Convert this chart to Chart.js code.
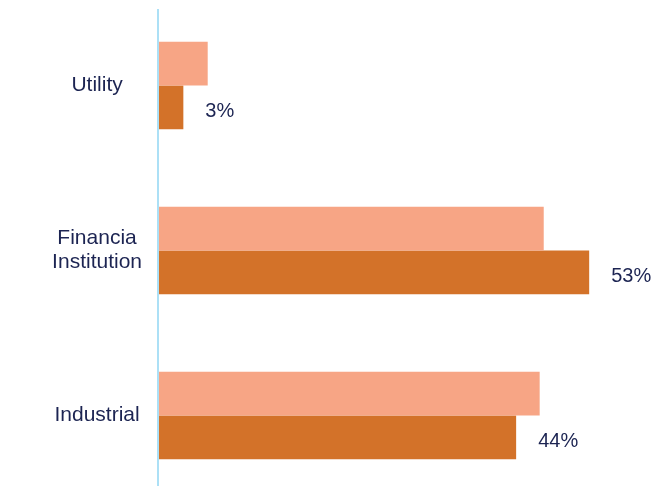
<!DOCTYPE html>
<html>
<head>
<meta charset="utf-8">
<script src="https://cdn.jsdelivr.net/npm/chart.js@4"></script>
<style>
  html, body { margin: 0; padding: 0; background: #fff; overflow: hidden; }
  #wrap { width: 651px; height: 500px; }
</style>
</head>
<body>
<div id="wrap"><canvas id="sectorChart"></canvas></div>
<script>
// sector chart - two series, labels only on the second
const categories = ['Utility', ['Financia', 'Institution'], 'Industrial'];
const lightValues = [6, 47.4, 46.9];
const darkValues = [3, 53, 44];
const darkLabels = ['3%', '53%', '44%'];

const textColor = '#1c2452';
const fontFamily = '"Liberation Sans", Arial, sans-serif';

// light blue axis line at zero
const zeroLine = {
    id: 'zeroLine',
    beforeDatasetsDraw(chart) {
        const ctx = chart.ctx;
        const x = chart.scales.x.getPixelForValue(0) - 1;
        ctx.save();
        ctx.strokeStyle = '#ace0f6';
        ctx.lineWidth = 2;
        ctx.beginPath();
        ctx.moveTo(x, 9);
        ctx.lineTo(x, chart.height);
        ctx.stroke();
        ctx.restore();
    }
};

// value labels to the right of the dark bars
const barLabels = {
    id: 'barLabels',
    afterDatasetsDraw(chart) {
        const ctx = chart.ctx;
        const meta = chart.getDatasetMeta(1);
        ctx.save();
        ctx.font = '20px ' + fontFamily;
        ctx.fillStyle = textColor;
        ctx.textAlign = 'left';
        ctx.textBaseline = 'middle';
        meta.data.forEach(function(bar, i) {
            ctx.fillText(darkLabels[i], bar.x + 22, bar.y + 4);
        });
        ctx.restore();
    }
};

document.addEventListener('DOMContentLoaded', function() {
    new Chart(document.getElementById('sectorChart').getContext('2d'), {
        type: 'bar',
        data: {
            labels: categories,
            datasets: [{
                data: lightValues,
                backgroundColor: '#f7a585',
                barPercentage: 1,
                categoryPercentage: 0.53
            }, {
                data: darkValues,
                backgroundColor: '#d37229',
                barPercentage: 1,
                categoryPercentage: 0.53
            }]
        },
        options: {
            indexAxis: 'y',
            responsive: true,
            maintainAspectRatio: false,
            animation: false,
            layout: { padding: { top: 3, bottom: 2, left: 0, right: 5 } },
            plugins: {
                legend: { display: false },
                tooltip: { enabled: false }
            },
            scales: {
                x: {
                    display: false,
                    min: 0,
                    max: 60
                },
                y: {
                    afterFit: function(scale) {
                        scale.width = 159;
                        scale.paddingTop = 0;
                        scale.paddingBottom = 0;
                    },
                    grid: { display: false, drawTicks: false },
                    border: { display: false },
                    ticks: {
                        crossAlign: 'center',
                        padding: 17,
                        color: textColor,
                        font: { family: fontFamily, size: 21, lineHeight: 1.15 }
                    }
                }
            }
        },
        plugins: [zeroLine, barLabels]
    });
});
</script>
</body>
</html>
